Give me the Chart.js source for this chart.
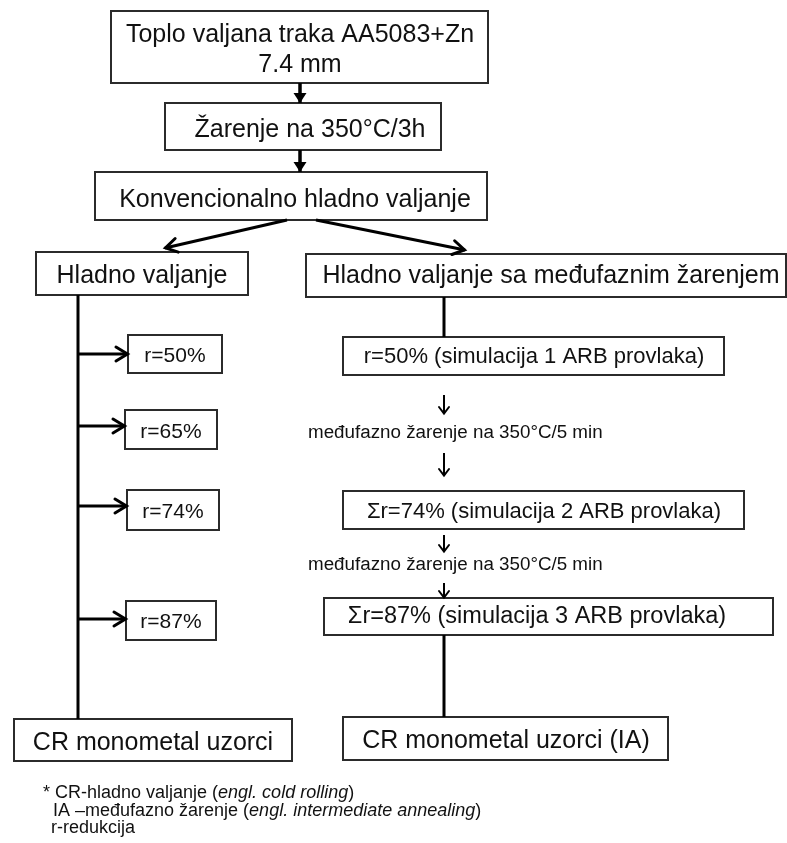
<!DOCTYPE html>
<html>
<head>
<meta charset="utf-8">
<script src="https://cdn.jsdelivr.net/npm/chart.js@4"></script>
<style>
html,body{margin:0;padding:0;background:#fff;}
canvas{display:block;}
</style>
</head>
<body>
<canvas id="c" width="787" height="843"></canvas>
<script>
// ---- content (texts) ----
const boxTexts = [
  ["Toplo valjana traka AA5083+Zn", "7.4 mm"],
  ["Žarenje na 350°C/3h"],
  ["Konvencionalno hladno valjanje"],
  ["Hladno valjanje"],
  ["Hladno valjanje sa međufaznim žarenjem"],
  ["r=50%"],
  ["r=65%"],
  ["r=74%"],
  ["r=87%"],
  ["CR monometal uzorci"],
  ["r=50% (simulacija 1 ARB provlaka)"],
  ["Σr=74% (simulacija 2 ARB provlaka)"],
  ["Σr=87% (simulacija 3 ARB provlaka)"],
  ["CR monometal uzorci (IA)"]
];
const stepLabels = ["međufazno žarenje na 350°C/5 min", "međufazno žarenje na 350°C/5 min"];
const footnoteRows = [
  [["* CR-hladno valjanje (", false], ["engl. cold rolling", true], [")", false]],
  [["IA –međufazno žarenje (", false], ["engl. intermediate annealing", true], [")", false]],
  [["r-redukcija", false]]
];

// ---- layout (diagram coordinates, mapped through the chart scales) ----
const boxRects = [
  [111, 11, 488, 83],
  [165, 103, 441, 150],
  [95, 172, 487, 220],
  [36, 252, 248, 295],
  [306, 254, 786, 297],
  [128, 335, 222, 373],
  [125, 410, 217, 449],
  [127, 490, 219, 530],
  [126, 601, 216, 640],
  [14, 719, 292, 761],
  [343, 337, 724, 375],
  [343, 491, 744, 529],
  [324, 598, 773, 635],
  [343, 717, 668, 760]
];
const boxFontSize = [25, 25, 25, 25, 25, 21, 21, 21, 21, 25, 22, 22, 23.5, 25];
const boxTextX = [300, 310, 295, 142, 551, 175, 171, 173, 171, 153, 534, 544, 537, 506];
const boxTextBase = [[42, 72], [137], [207], [283], [283], [362], [438], [518], [628], [750], [363], [518], [623], [748]];

const connectors = [
  { p: [[300, 83], [300, 103]], head: 'solid', w: 3.5 },
  { p: [[300, 150], [300, 172]], head: 'solid', w: 3.5 },
  { p: [[287, 220], [165, 248]], head: 'open', w: 3 },
  { p: [[316, 220], [465, 250]], head: 'open', w: 3 },
  { p: [[78, 295], [78, 719]], head: null, w: 3 },
  { p: [[78, 354], [128, 354]], head: 'open', w: 3 },
  { p: [[78, 426], [125, 426]], head: 'open', w: 3 },
  { p: [[78, 506], [127, 506]], head: 'open', w: 3 },
  { p: [[78, 619], [126, 619]], head: 'open', w: 3 },
  { p: [[444, 297], [444, 337]], head: null, w: 3 },
  { p: [[444, 395], [444, 414]], head: 'small', w: 2 },
  { p: [[444, 453], [444, 476]], head: 'small', w: 2 },
  { p: [[444, 535], [444, 552]], head: 'small', w: 2 },
  { p: [[444, 583], [444, 598]], head: 'small', w: 2 },
  { p: [[444, 635], [444, 717]], head: null, w: 3 }
];
const stepLabelPos = [[308, 438], [308, 570]];
const footnotePos = [[43, 798], [53, 816], [51, 833]];

const FONT = "'Liberation Sans', Arial, Helvetica, sans-serif";

const flowPlugin = {
  id: 'flow',
  beforeDatasetsDraw(chart) {
    const ctx = chart.ctx, X = chart.scales.x, Y = chart.scales.y;
    ctx.save();
    boxRects.forEach((r, i) => {
      const x1 = X.getPixelForValue(r[0]), y1 = Y.getPixelForValue(r[1]);
      const x2 = X.getPixelForValue(r[2]), y2 = Y.getPixelForValue(r[3]);
      ctx.fillStyle = '#fff';
      ctx.fillRect(x1, y1, x2 - x1, y2 - y1);
      ctx.strokeStyle = '#2b2b2b';
      ctx.lineWidth = 2;
      ctx.strokeRect(x1, y1, x2 - x1, y2 - y1);
      ctx.fillStyle = '#111';
      ctx.font = boxFontSize[i] + 'px ' + FONT;
      ctx.textAlign = 'center';
      ctx.textBaseline = 'alphabetic';
      boxTexts[i].forEach((t, j) => {
        ctx.fillText(t, X.getPixelForValue(boxTextX[i]), Y.getPixelForValue(boxTextBase[i][j]));
      });
    });
    ctx.restore();
  },
  afterDatasetsDraw(chart) {
    const ctx = chart.ctx, X = chart.scales.x, Y = chart.scales.y;
    ctx.save();
    chart.data.datasets.forEach((ds, i) => {
      if (!ds.head) return;
      const pts = chart.getDatasetMeta(i).data;
      const a = pts[pts.length - 2], b = pts[pts.length - 1];
      const ang = Math.atan2(b.y - a.y, b.x - a.x);
      let len, half;
      if (ds.head === 'solid') { len = 10; half = 6.5; }
      else if (ds.head === 'open') { len = 12; half = 7; }
      else { len = 7; half = 5; }
      const bx = b.x - len * Math.cos(ang), by = b.y - len * Math.sin(ang);
      const nx = -Math.sin(ang), ny = Math.cos(ang);
      ctx.strokeStyle = '#000';
      ctx.fillStyle = '#000';
      ctx.lineJoin = 'miter';
      ctx.lineCap = 'round';
      if (ds.head === 'solid') {
        ctx.beginPath();
        ctx.moveTo(b.x, b.y);
        ctx.lineTo(bx + nx * half, by + ny * half);
        ctx.lineTo(bx - nx * half, by - ny * half);
        ctx.closePath();
        ctx.fill();
      } else {
        ctx.lineWidth = ds.borderWidth;
        ctx.beginPath();
        ctx.moveTo(bx + nx * half, by + ny * half);
        ctx.lineTo(b.x - Math.cos(ang) * 0.5, b.y - Math.sin(ang) * 0.5);
        ctx.lineTo(bx - nx * half, by - ny * half);
        ctx.stroke();
      }
    });
    // step labels
    ctx.fillStyle = '#111';
    ctx.textAlign = 'left';
    ctx.textBaseline = 'alphabetic';
    ctx.font = '18.8px ' + FONT;
    stepLabels.forEach((t, i) => {
      ctx.fillText(t, X.getPixelForValue(stepLabelPos[i][0]), Y.getPixelForValue(stepLabelPos[i][1]));
    });
    // footnote
    footnoteRows.forEach((row, i) => {
      let x = X.getPixelForValue(footnotePos[i][0]);
      const y = Y.getPixelForValue(footnotePos[i][1]);
      row.forEach(([t, it]) => {
        ctx.font = (it ? 'italic ' : '') + '18px ' + FONT;
        ctx.fillText(t, x, y);
        x += ctx.measureText(t).width;
      });
    });
    ctx.restore();
  }
};

const datasets = connectors.map(c => ({
  data: c.p.map(([x, y]) => ({ x, y })),
  showLine: true,
  borderColor: '#000',
  borderWidth: c.w,
  pointRadius: 0,
  pointHoverRadius: 0,
  fill: false,
  tension: 0,
  head: c.head,
  clip: false
}));

new Chart(document.getElementById('c'), {
  type: 'scatter',
  data: { datasets },
  options: {
    responsive: false,
    animation: false,
    events: [],
    layout: { padding: 0 },
    plugins: { legend: { display: false }, tooltip: { enabled: false } },
    scales: {
      x: { type: 'linear', min: 0, max: 787, display: false },
      y: { type: 'linear', min: 0, max: 843, reverse: true, display: false }
    }
  },
  plugins: [flowPlugin]
});
</script>
</body>
</html>
